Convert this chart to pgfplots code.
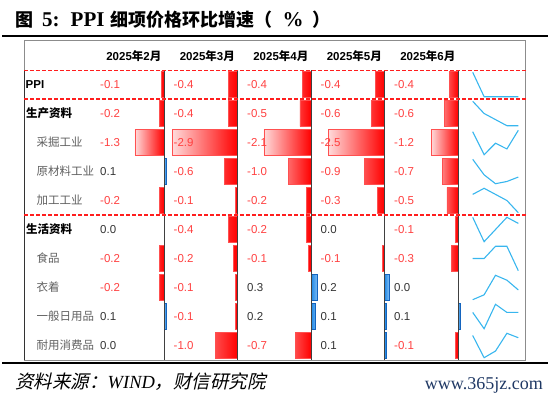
\documentclass[border=0pt]{standalone}
\usepackage{pgfplots}
\pgfplotsset{compat=1.18}
\usepackage{pgfplotstable}
\usepackage{fontspec}
\setmainfont{Liberation Sans}
\newfontfamily\cjk{Noto Sans CJK SC}
\newfontfamily\cjkit{Noto Sans CJK SC}[FakeSlant=0.22]
\newfontfamily\serif{Liberation Serif}
\definecolor{negred}{RGB}{255,64,64}
\definecolor{postxt}{RGB}{51,51,51}
\definecolor{lblgray}{RGB}{96,96,96}
\definecolor{barred}{RGB}{255,0,0}
\definecolor{barpink}{RGB}{255,218,218}
\definecolor{barborder}{RGB}{255,80,80}
\definecolor{barblue}{RGB}{30,136,229}
\definecolor{barbluel}{RGB}{130,190,245}
\definecolor{bluebd}{RGB}{20,100,190}
\definecolor{sparkc}{RGB}{56,182,238}
\definecolor{dashred}{RGB}{255,30,30}
\definecolor{navy}{RGB}{31,56,100}

% rows: 0 PPI, 1 生产资料, 2 采掘工业, 3 原材料工业, 4 加工工业,
%       5 生活资料, 6 食品, 7 衣着, 8 一般日用品, 9 耐用消费品
\pgfplotstableread{
row m2 m3 m4 m5 m6
0 -0.1 -0.4 -0.4 -0.4 -0.4
1 -0.2 -0.4 -0.5 -0.6 -0.6
2 -1.3 -2.9 -2.1 -2.5 -1.2
3 0.1 -0.6 -1.0 -0.9 -0.7
4 -0.2 -0.1 -0.2 -0.3 -0.5
5 0.0 -0.4 -0.2 0.0 -0.1
6 -0.2 -0.2 -0.1 -0.1 -0.3
7 -0.2 -0.1 0.3 0.2 0.0
8 0.1 -0.1 0.2 0.1 0.1
9 0.0 -1.0 -0.7 0.1 -0.1
}\data

\pgfplotsset{
 barcol/.style={anchor=south west, x=22.4bp, y=29bp, y dir=reverse,
   xmin=-3.25, xmax=0.5, ymin=-0.5, ymax=9.5, hide axis, clip=false},
 negbar/.style={xbar, bar width=26bp, bar shift=0pt, draw=barborder, line width=0.6bp,
   left color=barpink, right color=barred, restrict x to domain=-10:-0.01},
 posbar/.style={xbar, bar width=26bp, bar shift=0pt, draw=bluebd, line width=0.6bp,
   left color=barblue, right color=barbluel, restrict x to domain=0.01:10},
 spark/.style={anchor=south west, width=45.6bp, height=29bp, scale only axis, hide axis,
   xmin=1, xmax=5, enlarge y limits={rel=0.094}, clip=false},
 sparkline/.style={sparkc, line width=1.1bp, mark=none},
}

\newcommand\cv[3]{\ifdim #3pt<0pt\def\tc{negred}\else\def\tc{postxt}\fi
  \node[anchor=base west,inner sep=0pt,text=\tc] at (#1,#2) {#3};}

\begin{document}
\begin{tikzpicture}
% ---- data bars, one axis per month column ----
\begin{axis}[barcol, at={(91.2bp,35bp)}]
 \addplot[negbar] table[x=m2,y=row]{\data};
 \addplot[posbar] table[x=m2,y=row]{\data};
\end{axis}
\begin{axis}[barcol, at={(164.7bp,35bp)}]
 \addplot[negbar] table[x=m3,y=row]{\data};
 \addplot[posbar] table[x=m3,y=row]{\data};
\end{axis}
\begin{axis}[barcol, at={(238.2bp,35bp)}]
 \addplot[negbar] table[x=m4,y=row]{\data};
 \addplot[posbar] table[x=m4,y=row]{\data};
\end{axis}
\begin{axis}[barcol, at={(311.7bp,35bp)}]
 \addplot[negbar] table[x=m5,y=row]{\data};
 \addplot[posbar] table[x=m5,y=row]{\data};
\end{axis}
\begin{axis}[barcol, at={(385.2bp,35bp)}]
 \addplot[negbar] table[x=m6,y=row]{\data};
 \addplot[posbar] table[x=m6,y=row]{\data};
\end{axis}
% ---- sparklines ----
\begin{axis}[spark, at={(472.7bp,296bp)}]
 \addplot[sparkline] coordinates {(1,-0.1)(2,-0.4)(3,-0.4)(4,-0.4)(5,-0.4)};
\end{axis}
\begin{axis}[spark, at={(472.7bp,267bp)}]
 \addplot[sparkline] coordinates {(1,-0.2)(2,-0.4)(3,-0.5)(4,-0.6)(5,-0.6)};
\end{axis}
\begin{axis}[spark, at={(472.7bp,238bp)}]
 \addplot[sparkline] coordinates {(1,-1.3)(2,-2.9)(3,-2.1)(4,-2.5)(5,-1.2)};
\end{axis}
\begin{axis}[spark, at={(472.7bp,209bp)}]
 \addplot[sparkline] coordinates {(1,0.1)(2,-0.6)(3,-1.0)(4,-0.9)(5,-0.7)};
\end{axis}
\begin{axis}[spark, at={(472.7bp,180bp)}]
 \addplot[sparkline] coordinates {(1,-0.2)(2,-0.1)(3,-0.2)(4,-0.3)(5,-0.5)};
\end{axis}
\begin{axis}[spark, at={(472.7bp,151bp)}]
 \addplot[sparkline] coordinates {(1,0.0)(2,-0.4)(3,-0.2)(4,0.0)(5,-0.1)};
\end{axis}
\begin{axis}[spark, at={(472.7bp,122bp)}]
 \addplot[sparkline] coordinates {(1,-0.2)(2,-0.2)(3,-0.1)(4,-0.1)(5,-0.3)};
\end{axis}
\begin{axis}[spark, at={(472.7bp,93bp)}]
 \addplot[sparkline] coordinates {(1,-0.2)(2,-0.1)(3,0.3)(4,0.2)(5,0.0)};
\end{axis}
\begin{axis}[spark, at={(472.7bp,64bp)}]
 \addplot[sparkline] coordinates {(1,0.1)(2,-0.1)(3,0.2)(4,0.1)(5,0.1)};
\end{axis}
\begin{axis}[spark, at={(472.7bp,35bp)}]
 \addplot[sparkline] coordinates {(1,0.0)(2,-1.0)(3,-0.7)(4,0.1)(5,-0.1)};
\end{axis}

% ---- table decorations and text (pixel coordinates, y downwards) ----
\begin{scope}[x=1bp, y=-1bp, yshift=395bp, font=\fontsize{11.5bp}{13bp}\selectfont]
 % title
 \node[anchor=base west, inner sep=0pt] at (15,27) {\fontsize{18bp}{20bp}\selectfont
   {\cjk\bfseries 图}\hspace{9bp}{\fontsize{21bp}{22bp}\selectfont\serif\bfseries 5:}\hspace{11bp}{\fontsize{21bp}{22bp}\selectfont\serif\bfseries PPI}\hspace{6bp}{\cjk\bfseries 细项价格环比增速（}\hspace{10bp}{\fontsize{21bp}{22bp}\selectfont\serif\bfseries\%}\hspace{9bp}{\cjk\bfseries ）}};
 \draw[line width=2bp] (2,35.7) -- (548,35.7);
 \draw[line width=2bp] (2,363.3) -- (548,363.3);
 % frame
 \draw[black!45, line width=0.8bp] (24,40.7) rectangle (525.7,360);
 \draw[black!80, line width=0.8bp] (24,70.5) -- (24,360);
 % separators
 \foreach \xx in {164,237.5,311,384.5,458}
   \draw[black!75, line width=0.7bp] (\xx,70.5) -- (\xx,360);
 % dashed red lines
 \foreach \yy in {70.5,99,215}
   \draw[dashred, line width=1.1bp, dash pattern=on 4bp off 2bp] (24,\yy) -- (525.7,\yy);
 % header
 \node[anchor=base east, inner sep=0pt] at (161.5,60.2) {\bfseries 2025{\cjk\bfseries 年}2{\cjk\bfseries 月}};
 \node[anchor=base east, inner sep=0pt] at (235,60.2) {\bfseries 2025{\cjk\bfseries 年}3{\cjk\bfseries 月}};
 \node[anchor=base east, inner sep=0pt] at (308.5,60.2) {\bfseries 2025{\cjk\bfseries 年}4{\cjk\bfseries 月}};
 \node[anchor=base east, inner sep=0pt] at (382,60.2) {\bfseries 2025{\cjk\bfseries 年}5{\cjk\bfseries 月}};
 \node[anchor=base east, inner sep=0pt] at (455.5,60.2) {\bfseries 2025{\cjk\bfseries 年}6{\cjk\bfseries 月}};
 % row labels
 \node[anchor=base west, inner sep=0pt] at (25.5,88.8) {\bfseries PPI};
 \node[anchor=base west, inner sep=0pt] at (26,117.8) {\cjk\bfseries 生产资料};
 \node[anchor=base west, inner sep=0pt, text=lblgray] at (36.5,146.8) {\cjk 采掘工业};
 \node[anchor=base west, inner sep=0pt, text=lblgray] at (36.5,175.8) {\cjk 原材料工业};
 \node[anchor=base west, inner sep=0pt, text=lblgray] at (36.5,204.8) {\cjk 加工工业};
 \node[anchor=base west, inner sep=0pt] at (26,233.8) {\cjk\bfseries 生活资料};
 \node[anchor=base west, inner sep=0pt, text=lblgray] at (36.5,262.8) {\cjk 食品};
 \node[anchor=base west, inner sep=0pt, text=lblgray] at (36.5,291.8) {\cjk 衣着};
 \node[anchor=base west, inner sep=0pt, text=lblgray] at (36.5,320.8) {\cjk 一般日用品};
 \node[anchor=base west, inner sep=0pt, text=lblgray] at (36.5,349.8) {\cjk 耐用消费品};
 % values
 \foreach \r/\a/\b/\c/\d/\e in {0/-0.1/-0.4/-0.4/-0.4/-0.4, 1/-0.2/-0.4/-0.5/-0.6/-0.6,
   2/-1.3/-2.9/-2.1/-2.5/-1.2, 3/0.1/-0.6/-1.0/-0.9/-0.7, 4/-0.2/-0.1/-0.2/-0.3/-0.5,
   5/0.0/-0.4/-0.2/0.0/-0.1, 6/-0.2/-0.2/-0.1/-0.1/-0.3, 7/-0.2/-0.1/0.3/0.2/0.0,
   8/0.1/-0.1/0.2/0.1/0.1, 9/0.0/-1.0/-0.7/0.1/-0.1} {
   \pgfmathsetmacro\yy{88.8+29*\r}
   \cv{100}{\yy}{\a}\cv{173.5}{\yy}{\b}\cv{247}{\yy}{\c}\cv{320.5}{\yy}{\d}\cv{394}{\yy}{\e}
 }
 % footer
 \node[anchor=base west, inner sep=0pt] at (15,389) {\fontsize{18.5bp}{22bp}\selectfont\cjkit 资料来源：{\serif\itshape WIND}，财信研究院};
 \node[anchor=base east, inner sep=0pt, text=navy] at (543,389.5) {\fontsize{18bp}{22bp}\selectfont\serif www.365jz.com};
\end{scope}
\pgfresetboundingbox
\path (0,0) rectangle (550bp,395bp);
\end{tikzpicture}
\end{document}
